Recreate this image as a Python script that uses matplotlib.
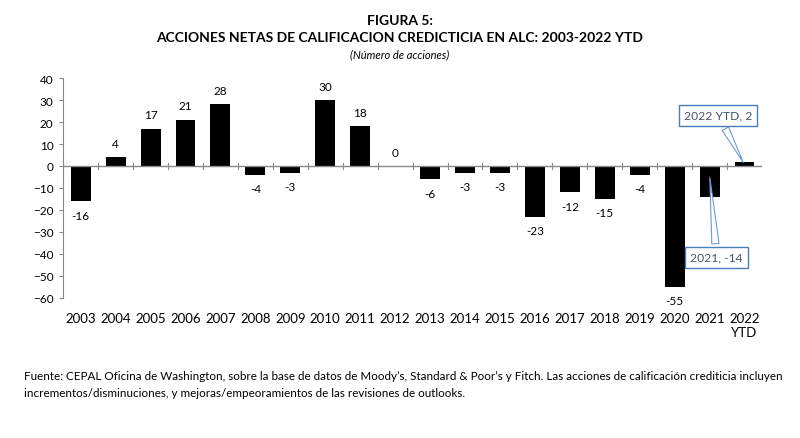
import matplotlib.pyplot as plt
import numpy as np

plt.rcParams['font.family'] = ['Lato', 'DejaVu Sans']

years = ['2003', '2004', '2005', '2006', '2007', '2008', '2009', '2010', '2011', '2012',
         '2013', '2014', '2015', '2016', '2017', '2018', '2019', '2020', '2021', '2022\nYTD']
acciones = [-16, 4, 17, 21, 28, -4, -3, 30, 18, 0,
            -6, -3, -3, -23, -12, -15, -4, -55, -14, 2]
callouts = {18: '2021, -14', 19: '2022 YTD, 2'}

fig = plt.figure(figsize=(8, 4.39), dpi=100)
ax = fig.add_axes([0.079, 0.319, 0.8735, 0.501])

x = np.arange(len(years))
ax.bar(x, acciones, width=0.57, color='black', zorder=2)

# etiquetas de valores
for i, v in enumerate(acciones):
    if i in callouts:
        continue
    if v >= 0:
        ax.annotate(str(v), (i, v), xytext=(0, 6), textcoords='offset points',
                    ha='center', va='bottom', fontsize=8.5)
    else:
        ax.annotate(str(v), (i, v), xytext=(0, -6), textcoords='offset points',
                    ha='center', va='top', fontsize=8.5)

blue = '#4a7ebb'
box = dict(boxstyle='square,pad=0.4', fc='white', ec=blue, lw=1)
arrow = dict(arrowstyle='wedge,tail_width=0.6,shrink_factor=0.5', fc='white', ec='#6b9bd6', lw=0.8)
ax.annotate(callouts[18], (18, -4), xytext=(18.2, -41.5), textcoords='data',
            ha='center', va='center', fontsize=8.7, color='#44546a', bbox=box,
            arrowprops=arrow, zorder=5)
ax.annotate(callouts[19], (19, 0.5), xytext=(18.25, 23), textcoords='data',
            ha='center', va='center', fontsize=8.7, color='#44546a', bbox=box,
            arrowprops=arrow, zorder=5)

ax.set_xlim(-0.5, len(years) - 0.5)
ax.set_ylim(-60, 40)
ax.set_yticks(range(-60, 41, 10))
ax.set_xticks(x)
ax.set_xticklabels(years, fontsize=9.5)
ax.tick_params(axis='y', labelsize=8.5, length=3, color='#888888', pad=4)
ax.tick_params(axis='x', length=0, pad=10)

for s in ['top', 'right', 'bottom']:
    ax.spines[s].set_visible(False)
ax.spines['left'].set_color('#888888')
ax.axhline(0, color='#888888', lw=1, zorder=3)
for b in np.arange(-0.5, len(years), 1.0):
    ax.plot([b, b], [-1.2, 1.2], color='#888888', lw=0.8, zorder=3)

fig.text(0.5, 0.953, 'FIGURA 5:', ha='center', va='center', fontsize=10, fontweight='bold')
fig.text(0.5, 0.913, 'ACCIONES NETAS DE CALIFICACION CREDICTICIA EN ALC: 2003-2022 YTD',
         ha='center', va='center', fontsize=10, fontweight='bold')
fig.text(0.5, 0.875, '(Número de acciones)', ha='center', va='center', fontsize=8, style='italic')

fig.text(0.03, 0.143, 'Fuente: CEPAL Oficina de Washington, sobre la base de datos de Moody’s, '
         'Standard & Poor’s y Fitch. Las acciones de calificación crediticia incluyen',
         ha='left', va='center', fontsize=8.4)
fig.text(0.03, 0.104, 'incrementos/disminuciones, y mejoras/empeoramientos de las revisiones de outlooks.',
         ha='left', va='center', fontsize=8.4)

fig.savefig('out.png', dpi=100)
